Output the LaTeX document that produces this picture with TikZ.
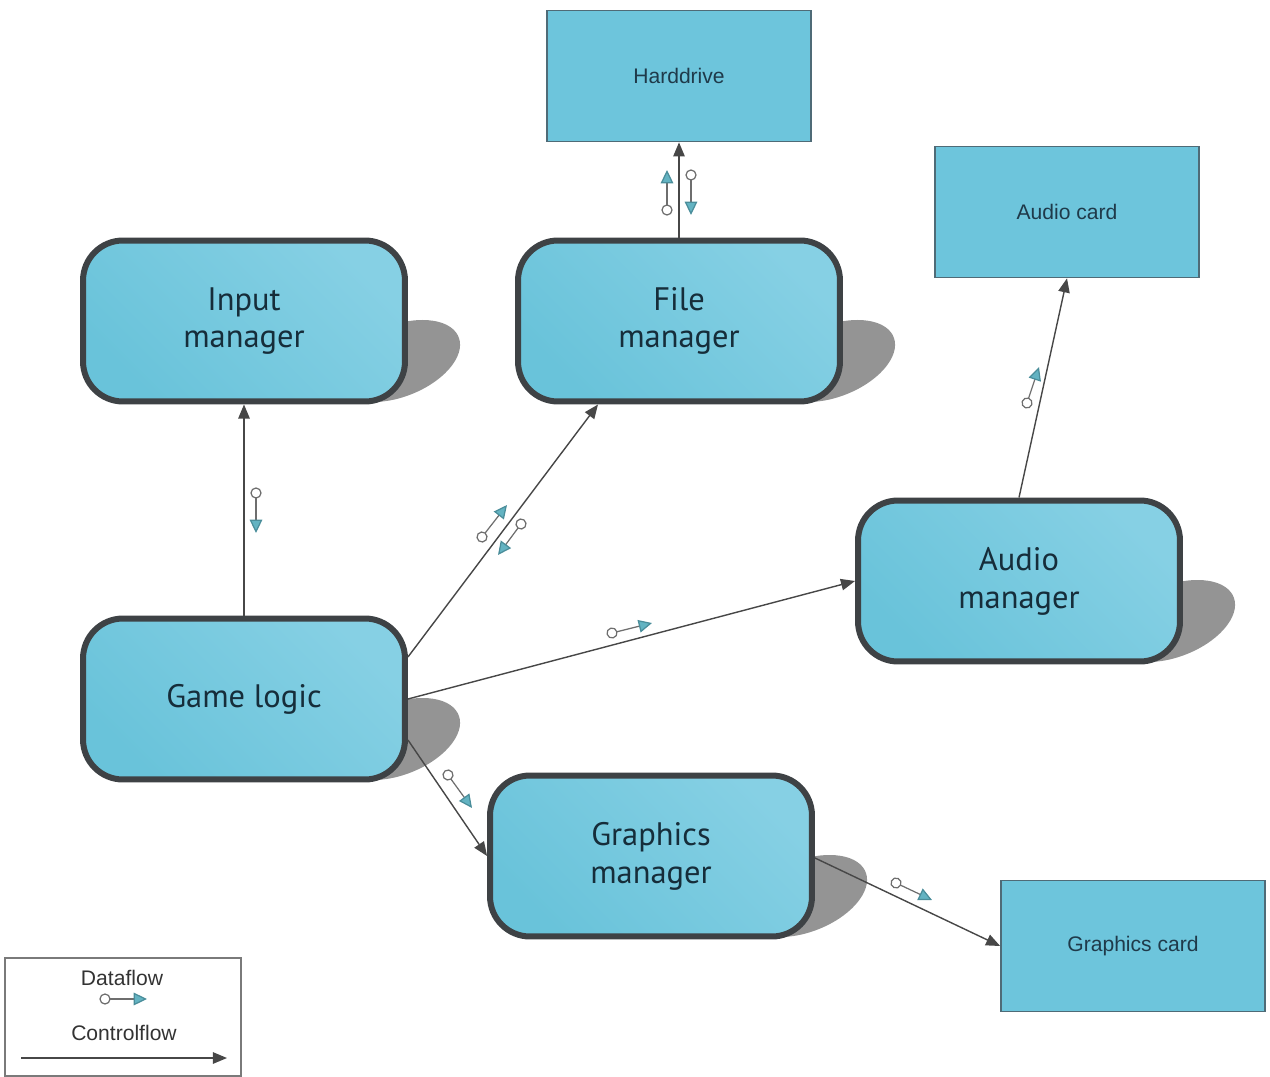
\documentclass[tikz,border=0pt]{standalone}
\usepackage{fontspec}
\setmainfont{Liberation Sans}
\newfontfamily\mgrfont{PT Sans}
\usetikzlibrary{arrows.meta,calc}
\pgfdeclarelayer{background}
\pgfsetlayers{background,main}

\definecolor{mgrfill}{HTML}{69C3DA}
\definecolor{mgrlight}{HTML}{86D0E4}
\definecolor{mgredge}{HTML}{3E4245}
\definecolor{mgrtext}{HTML}{162D3A}
\definecolor{hwfill}{HTML}{6DC5DC}
\definecolor{hwedge}{HTML}{4F6B77}
\definecolor{hwtext}{HTML}{1F3A4A}
\definecolor{ctrl}{HTML}{474747}
\definecolor{dfline}{HTML}{6E6E6E}
\definecolor{dfteal}{HTML}{63B3C2}
\definecolor{dftealdark}{HTML}{4A8D9A}
\definecolor{shadowgrey}{HTML}{949494}
\definecolor{legendedge}{HTML}{7A7A7A}
\definecolor{legendtext}{HTML}{333333}

\tikzset{
  manager/.style={rectangle, rounded corners=0.8cm, draw=mgredge, line width=0.12cm,
    top color=mgrlight, bottom color=mgrfill, shading angle=-45,
    minimum width=6.44cm, minimum height=3.22cm, align=center, text=mgrtext,
    font=\mgrfont\fontsize{18.5}{21.5}\selectfont},
  hardware/.style={rectangle, draw=hwedge, line width=1pt, fill=hwfill,
    minimum width=5.28cm, minimum height=2.62cm, text=hwtext,
    font=\fontsize{12}{14}\selectfont},
  control/.style={draw=ctrl, line width=0.8pt, -{Triangle[length=8pt,width=6.5pt]}},
  dataflow/.style={draw=dfline, line width=0.7pt, shorten <=-3.2pt,
    {Circle[length=6.4pt,fill=white]}-{Triangle[length=7.6pt,width=7.2pt,color=dftealdark,fill=dfteal]}},
  mshadow/.style={fill=shadowgrey},
  legendbox/.style={rectangle, draw=legendedge, line width=0.8pt,
    minimum width=4.72cm, minimum height=2.36cm},
  legendlabel/.style={text=legendtext, font=\fontsize{12}{14}\selectfont, inner sep=0pt},
}

\begin{document}
\begin{tikzpicture}[x=0.02cm, y=-0.02cm]
  \path[use as bounding box] (0,0) rectangle (1270,1077);

  % software components
  \node[manager] (im) at (244,321) {Input\\manager};
  \node[manager] (fm) at (679,321) {File\\manager};
  \node[manager] (am) at (1019,581) {Audio\\manager};
  \node[manager] (gl) at (244,699) {Game logic};
  \node[manager] (gm) at (651,856) {Graphics\\manager};

  % hardware
  \node[hardware] (hd) at (679,76) {Harddrive};
  \node[hardware] (ac) at (1067,212) {Audio card};
  \node[hardware] (gc) at (1133,946) {Graphics card};

  % slanted drop shadows behind the components
  \begin{pgfonlayer}{background}
    \foreach \n in {im,fm,am,gl,gm}
      \fill[mshadow, shift={($(\n.east)+(-10,40)$)}, xslant=0.6]
        (0,0) ellipse [x radius=57, y radius=41];
  \end{pgfonlayer}

  % control flow
  \draw[control] (gl.north) -- (im.south);
  \draw[control] ($(gl.east)+(0,-42)$) -- ($(fm.south)+(-81,0)$);
  \draw[control] (gl.east) -- (am.west);
  \draw[control] ($(gl.east)+(0,41)$) -- (gm.west);
  \draw[control] (fm.north) -- (hd.south);
  \draw[control] (am.north) -- (ac.south);
  \draw[control] ($(gm.east)+(0,2)$) -- (gc.west);

  % data flow markers
  \coordinate (d1a) at (256,493);  \coordinate (d1b) at (256,533);
  \coordinate (d2a) at (482,537);  \coordinate (d2b) at (507,505);
  \coordinate (d3a) at (521,524);  \coordinate (d3b) at (498,555);
  \coordinate (d4a) at (612,633);  \coordinate (d4b) at (652,623);
  \coordinate (d5a) at (448,775);  \coordinate (d5b) at (472,808);
  \coordinate (d6a) at (667,210);  \coordinate (d6b) at (667,170);
  \coordinate (d7a) at (691,175);  \coordinate (d7b) at (691,215);
  \coordinate (d8a) at (1027,403); \coordinate (d8b) at (1039,367);
  \coordinate (d9a) at (896,883);  \coordinate (d9b) at (932,900);
  \foreach \i in {1,...,9}
    \draw[dataflow] (d\i a) -- (d\i b);

  % legend
  \node[legendbox] (legend) at (123,1017) {};
  \node[legendlabel] (dftext) at (122,978) {Dataflow};
  \node[legendlabel] (cftext) at (124,1033) {Controlflow};
  \coordinate (lda) at (105,999);  \coordinate (ldb) at (147,999);
  \draw[dataflow] (lda) -- (ldb);
  \coordinate (cfa) at (21,1058);  \coordinate (cfb) at (227,1058);
  \draw[control] (cfa) -- (cfb);
\end{tikzpicture}
\end{document}
